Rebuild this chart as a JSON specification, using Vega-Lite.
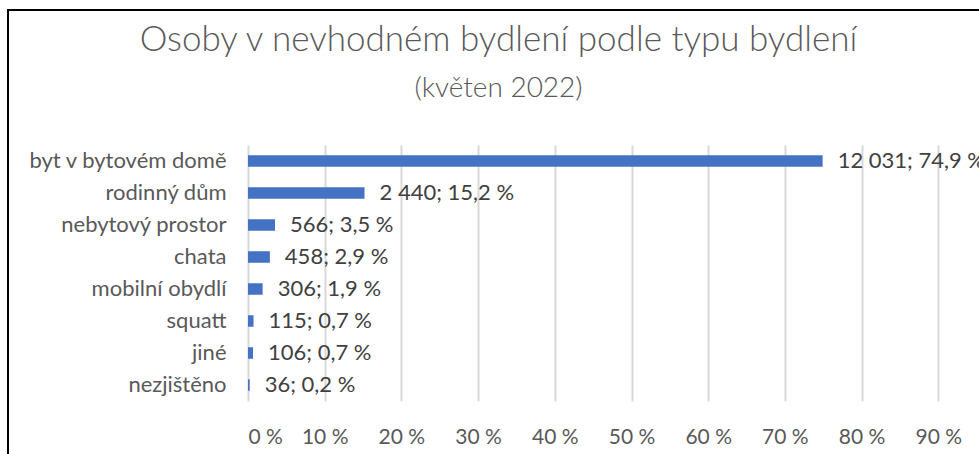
{
  "$schema": "https://vega.github.io/schema/vega-lite/v6.json",
  "autosize": {"type": "none"},
  "padding": {"left": 8, "top": 10, "right": -2, "bottom": -2},
  "width": 973,
  "height": 446,
  "background": "white",
  "config": {
    "font": "Lato",
    "view": {"stroke": "#000000", "strokeWidth": 2}
  },
  "title": {
    "text": "Osoby v nevhodném bydlení podle typu bydlení",
    "subtitle": "(květen 2022)",
    "anchor": "middle",
    "frame": "group",
    "dx": 4,
    "offset": -93,
    "font": "Lato",
    "fontSize": 35,
    "fontWeight": 300,
    "color": "#595959",
    "subtitleFont": "Lato",
    "subtitleFontSize": 28,
    "subtitleFontWeight": 300,
    "subtitleColor": "#595959",
    "subtitlePadding": 17
  },
  "data": {
    "values": [
      {"typ": "byt v bytovém domě", "pocet": 12031, "podil": 0.7492, "popisek": "12 031; 74,9 %"},
      {"typ": "rodinný dům", "pocet": 2440, "podil": 0.1519, "popisek": "2 440; 15,2 %"},
      {"typ": "nebytový prostor", "pocet": 566, "podil": 0.0352, "popisek": "566; 3,5 %"},
      {"typ": "chata", "pocet": 458, "podil": 0.0285, "popisek": "458; 2,9 %"},
      {"typ": "mobilní obydlí", "pocet": 306, "podil": 0.0191, "popisek": "306; 1,9 %"},
      {"typ": "squatt", "pocet": 115, "podil": 0.0072, "popisek": "115; 0,7 %"},
      {"typ": "jiné", "pocet": 106, "podil": 0.0066, "popisek": "106; 0,7 %"},
      {"typ": "nezjištěno", "pocet": 36, "podil": 0.0022, "popisek": "36; 0,2 %"}
    ]
  },
  "encoding": {
    "y": {
      "field": "typ",
      "type": "nominal",
      "sort": null,
      "scale": {"range": [135, 391], "paddingInner": 0.64, "paddingOuter": 0.32},
      "axis": {
        "title": null,
        "orient": "left",
        "offset": -218,
        "ticks": false,
        "tickSize": 0,
        "domain": false,
        "grid": false,
        "labelPadding": 0,
        "labelLimit": 400,
        "labelFont": "Lato",
        "labelFontSize": 22,
        "labelColor": "#595959"
      }
    },
    "x": {
      "field": "podil",
      "type": "quantitative",
      "scale": {"domain": [0, 1], "range": [240, 1007], "nice": false, "zero": true},
      "axis": {
        "title": null,
        "orient": "top",
        "offset": -433,
        "values": [0, 0.1, 0.2, 0.3, 0.4, 0.5, 0.6, 0.7, 0.8, 0.9],
        "labelExpr": "round(datum.value * 100) + ' %'",
        "ticks": false,
        "tickSize": 0,
        "domain": false,
        "grid": true,
        "gridColor": "#d9d9d9",
        "gridWidth": 2,
        "labelPadding": 0,
        "labelBaseline": "alphabetic",
        "labelFont": "Lato",
        "labelFontSize": 21,
        "labelColor": "#595959"
      }
    }
  },
  "layer": [
    {"mark": {"type": "bar", "color": "#4472C4"}},
    {
      "mark": {"type": "text", "align": "left", "baseline": "middle", "dx": 15, "font": "Lato", "fontSize": 22, "color": "#404040"},
      "encoding": {"text": {"field": "popisek", "type": "nominal"}}
    }
  ]
}
